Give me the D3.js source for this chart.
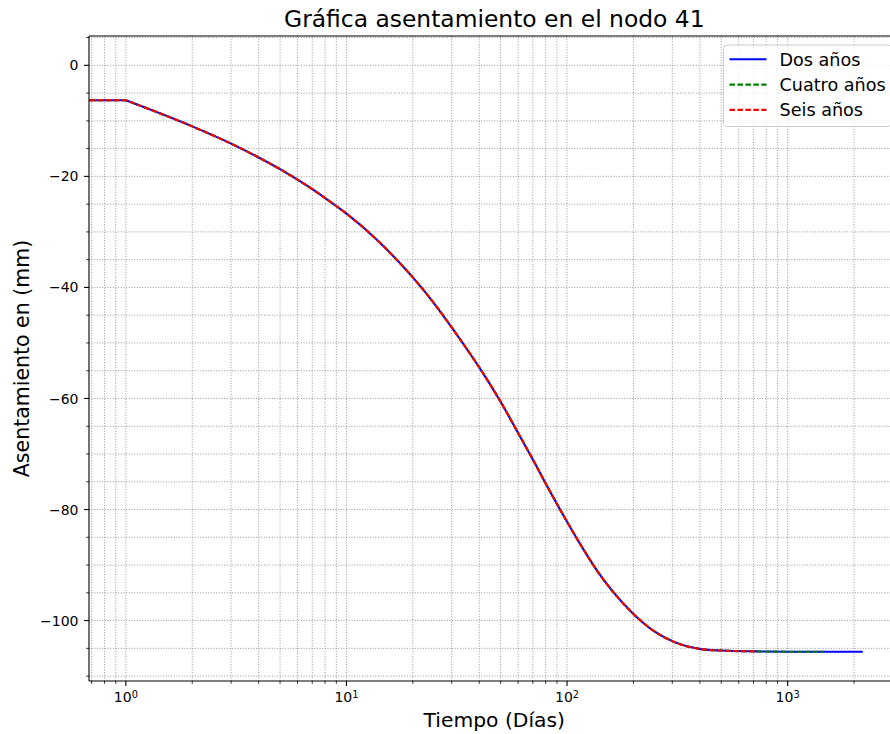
<!DOCTYPE html>
<html>
<head>
<meta charset="utf-8">
<script src="https://cdn.jsdelivr.net/npm/d3@7"></script>
<style>
  body { margin: 0; background: #fff; }
  text { font-family: "DejaVu Sans", sans-serif; fill: #000; }
</style>
</head>
<body>
<div id="chart"></div>
<script>
const width = 890;
const height = 734;

// Datos (tiempo en dias, asentamiento en mm)
const tiempo = [0, 1, 2, 3, 4, 5, 6, 7, 8, 10, 12, 15, 20, 25, 30, 35, 40, 50, 60, 70,
  80, 90, 100, 120, 140, 160, 200, 250, 300, 400, 500, 730, 1000, 1460, 2190];
const asentamiento = [0, -6.3, -11.0, -14.1, -16.6, -18.7, -20.6, -22.3, -23.9, -26.7,
  -29.3, -32.9, -38.2, -42.9, -47.2, -51.0, -54.4, -60.6, -66.2, -71.0,
  -75.3, -79.0, -82.2, -87.5, -91.6, -94.6, -98.8, -102.0, -103.7, -105.1,
  -105.4, -105.55, -105.6, -105.6, -105.6];

const nombresSeries = ["Dos años", "Cuatro años", "Seis años"];
const finSeries = [2190, 1460, 730]; // ultimo dia de cada serie
const coloresSeries = ["#0000ff", "#008000", "#ff0000"];
const trazosSeries = [null, "5.55,2.4", "5.55,2.4"];

const yTicks = [-100, -80, -60, -40, -20, 0];
const xTicks = [1, 10, 100, 1000];

// area de la grafica
const margin = { left: 89, top: 36, bottom: 681 };
const decada = 220.6;

// limites como matplotlib (margen 5%)
const logMax = Math.log10(d3.max(finSeries));
const xDomain = [Math.pow(10, -0.05 * logMax), Math.pow(10, 1.05 * logMax)];
const plotRight = margin.left + decada * (Math.log10(xDomain[1]) - Math.log10(xDomain[0]));

const yMin = d3.min(asentamiento), yMax = d3.max(asentamiento);
const yPad = 0.05 * (yMax - yMin);

const x = d3.scaleLog().domain(xDomain).range([margin.left, plotRight]);
const y = d3.scaleLinear().domain([yMin - yPad, yMax + yPad]).range([margin.bottom, margin.top]);

const svg = d3.select("#chart").append("svg")
  .attr("width", width)
  .attr("height", height);

svg.append("defs").append("clipPath").attr("id", "clip")
  .append("rect")
  .attr("x", margin.left)
  .attr("y", margin.top)
  .attr("width", plotRight - margin.left)
  .attr("height", margin.bottom - margin.top);

// ticks menores
const xMinor = [];
for (let e = -1; e <= 3; e++) {
  for (let m = 2; m <= 9; m++) {
    const v = m * Math.pow(10, e);
    if (v >= xDomain[0] && v <= xDomain[1]) xMinor.push(v);
  }
}
const yMinor = d3.range(-110, 6, 5).filter((v) => v >= y.domain()[0] && v <= y.domain()[1] && !yTicks.includes(v));

// grid (mayor y menor)
const grid = svg.append("g").attr("clip-path", "url(#clip)")
  .attr("stroke", "#808080")
  .attr("stroke-width", 0.8)
  .attr("stroke-dasharray", "1,1.65");

grid.selectAll(".gx").data(xTicks.concat(xMinor)).enter()
  .append("line")
  .attr("x1", (d) => x(d)).attr("x2", (d) => x(d))
  .attr("y1", margin.top).attr("y2", margin.bottom);

grid.selectAll(".gy").data(yTicks.concat(yMinor)).enter()
  .append("line")
  .attr("x1", margin.left).attr("x2", plotRight)
  .attr("y1", (d) => y(d)).attr("y2", (d) => y(d));

// curvas
const curva = d3.line()
  .x((d) => x(d[0]))
  .y((d) => y(d[1]))
  .curve(d3.curveMonotoneX);

function caminoSerie(fin) {
  const pts = tiempo.map((t, i) => [t, asentamiento[i]]).filter((d) => d[0] <= fin);
  // t = 0 no existe en escala log: se lleva a un valor minimo como matplotlib
  const inicio = pts[0];
  const resto = pts.slice(1);
  const x0 = x(inicio[0] > 0 ? inicio[0] : 1e-300);
  return `M${x0},${y(inicio[1])}L` + curva(resto).slice(1);
}

const lineas = svg.append("g").attr("clip-path", "url(#clip)");
nombresSeries.forEach((nombre, i) => {
  lineas.append("path")
    .attr("d", caminoSerie(finSeries[i]))
    .attr("fill", "none")
    .attr("stroke", coloresSeries[i])
    .attr("stroke-width", 2.1)
    .attr("stroke-dasharray", trazosSeries[i]);
});

// ejes (spines)
const ejes = svg.append("g").attr("stroke", "#000").attr("stroke-width", 1.1);
ejes.append("line").attr("x1", margin.left).attr("x2", margin.left)
  .attr("y1", margin.top).attr("y2", margin.bottom);
ejes.append("line").attr("x1", margin.left).attr("x2", plotRight)
  .attr("y1", margin.bottom).attr("y2", margin.bottom);
ejes.append("line").attr("x1", margin.left).attr("x2", plotRight)
  .attr("y1", margin.top).attr("y2", margin.top);

// ticks
const ticks = svg.append("g").attr("stroke", "#000");
ticks.selectAll(".xt").data(xTicks).enter().append("line")
  .attr("stroke-width", 1.1)
  .attr("x1", (d) => x(d)).attr("x2", (d) => x(d))
  .attr("y1", margin.bottom).attr("y2", margin.bottom + 4.9);
ticks.selectAll(".xm").data(xMinor).enter().append("line")
  .attr("stroke-width", 0.8)
  .attr("x1", (d) => x(d)).attr("x2", (d) => x(d))
  .attr("y1", margin.bottom).attr("y2", margin.bottom + 2.8);
ticks.selectAll(".yt").data(yTicks).enter().append("line")
  .attr("stroke-width", 1.1)
  .attr("x1", margin.left - 4.9).attr("x2", margin.left)
  .attr("y1", (d) => y(d)).attr("y2", (d) => y(d));
ticks.selectAll(".ym").data(yMinor).enter().append("line")
  .attr("stroke-width", 0.8)
  .attr("x1", margin.left - 2.8).attr("x2", margin.left)
  .attr("y1", (d) => y(d)).attr("y2", (d) => y(d));

// etiquetas de ticks
svg.selectAll(".ylab").data(yTicks).enter().append("text")
  .attr("x", margin.left - 10.5)
  .attr("y", (d) => y(d))
  .attr("dy", "0.36em")
  .attr("text-anchor", "end")
  .style("font-size", "14px")
  .text((d) => (d < 0 ? "\u2212" + Math.abs(d) : d));

const xlab = svg.selectAll(".xlab").data(xTicks).enter().append("text")
  .attr("x", (d) => x(d))
  .attr("y", 702)
  .attr("text-anchor", "middle")
  .style("font-size", "14px");
xlab.append("tspan").text("10");
xlab.append("tspan")
  .attr("dy", -4.5)
  .style("font-size", "9.8px")
  .text((d) => Math.round(Math.log10(d)));

// titulos
svg.append("text")
  .attr("x", (margin.left + plotRight) / 2)
  .attr("y", 27)
  .attr("text-anchor", "middle")
  .style("font-size", "23.4px")
  .text("Gráfica asentamiento en el nodo 41");

svg.append("text")
  .attr("x", (margin.left + plotRight) / 2)
  .attr("y", 727)
  .attr("text-anchor", "middle")
  .style("font-size", "20.3px")
  .text("Tiempo (Días)");

svg.append("text")
  .attr("transform", `translate(29, ${(margin.top + margin.bottom) / 2}) rotate(-90)`)
  .attr("text-anchor", "middle")
  .style("font-size", "20.5px")
  .text("Asentamiento en (mm)");

// leyenda
const legend = svg.append("g").attr("transform", "translate(723.5, 45)");
legend.append("rect")
  .attr("width", 168)
  .attr("height", 81.5)
  .attr("rx", 3.5)
  .attr("fill", "#fff")
  .attr("fill-opacity", 0.8)
  .attr("stroke", "#cccccc")
  .attr("stroke-width", 1);

nombresSeries.forEach((nombre, i) => {
  const cy = 14.3 + i * 25.3;
  legend.append("line")
    .attr("x1", 6).attr("x2", 43)
    .attr("y1", cy).attr("y2", cy)
    .attr("stroke", coloresSeries[i])
    .attr("stroke-width", 2.1)
    .attr("stroke-dasharray", trazosSeries[i]);
  legend.append("text")
    .attr("x", 56)
    .attr("y", cy + 6.4)
    .style("font-size", "17.6px")
    .text(nombre);
});
</script>
</body>
</html>
